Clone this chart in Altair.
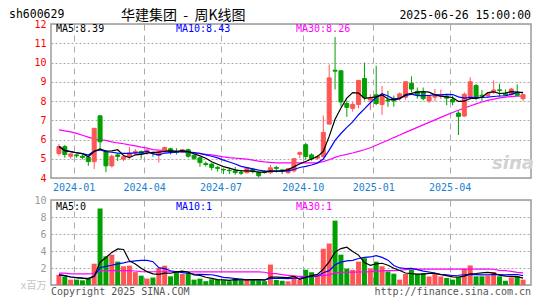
import altair as alt
import pandas as pd

weeks = [
    "2023-12-15", "2023-12-22", "2023-12-29",
    "2024-01-05", "2024-01-12", "2024-01-19", "2024-01-26", "2024-02-02", "2024-02-08", "2024-02-23",
    "2024-03-01", "2024-03-08", "2024-03-15", "2024-03-22", "2024-03-29",
    "2024-04-03", "2024-04-12", "2024-04-19", "2024-04-26", "2024-04-30", "2024-05-10", "2024-05-17",
    "2024-05-24", "2024-05-31", "2024-06-07", "2024-06-14", "2024-06-21", "2024-06-28",
    "2024-07-05", "2024-07-12", "2024-07-19", "2024-07-26", "2024-08-02", "2024-08-09", "2024-08-16",
    "2024-08-23", "2024-08-30", "2024-09-06", "2024-09-13", "2024-09-20", "2024-09-27", "2024-09-30",
    "2024-10-11", "2024-10-18", "2024-10-25", "2024-11-01", "2024-11-08", "2024-11-15", "2024-11-22",
    "2024-11-29", "2024-12-06", "2024-12-13", "2024-12-20", "2024-12-27",
    "2025-01-03", "2025-01-10", "2025-01-17", "2025-01-24", "2025-01-27", "2025-02-07", "2025-02-14",
    "2025-02-21", "2025-02-28", "2025-03-07", "2025-03-14", "2025-03-21", "2025-03-28",
    "2025-04-03", "2025-04-11", "2025-04-18", "2025-04-25", "2025-04-30", "2025-05-09", "2025-05-16",
    "2025-05-23", "2025-05-30", "2025-06-06", "2025-06-13", "2025-06-20", "2025-06-26",
]
opens = [5.27, 5.63, 5.13, 5.20, 5.13, 5.08, 4.85, 7.23, 5.38, 4.63,
         5.20, 4.98, 5.12, 5.30, 5.38, 5.35, 5.33, 5.17, 5.42, 5.52,
         5.37, 5.35, 5.47, 5.18, 5.05, 4.75, 4.72, 4.55, 4.45, 4.40,
         4.37, 4.28, 4.28, 4.45, 4.28, 4.33, 4.28, 4.55, 4.42, 4.28,
         4.37, 5.23, 5.73, 5.20, 5.03, 5.12, 6.80, 9.60, 9.57, 7.87,
         7.62, 7.82, 9.17, 8.05, 8.32, 7.82, 8.05, 8.12, 8.17, 8.20,
         8.92, 8.50, 8.45, 8.00, 8.20, 8.25, 8.25, 8.08, 7.37, 7.22,
         8.17, 8.80, 8.30, 8.28, 8.45, 8.58, 8.40, 8.33, 8.45, 8.12]
highs = [5.77, 5.72, 5.28, 5.27, 5.22, 5.13, 6.60, 7.25, 5.45, 5.22,
         5.28, 5.18, 5.60, 5.50, 5.42, 5.50, 5.35, 5.42, 5.63, 5.57,
         5.55, 5.50, 5.53, 5.27, 5.08, 4.85, 4.80, 4.62, 4.50, 4.50,
         4.57, 4.40, 4.57, 4.53, 4.33, 4.40, 4.67, 4.62, 4.45, 4.53,
         5.03, 5.37, 5.83, 5.28, 5.20, 7.25, 9.90, 11.32, 9.57, 8.03,
         7.95, 9.10, 10.00, 8.35, 9.83, 8.78, 8.53, 8.28, 8.45, 9.03,
         9.28, 8.70, 8.70, 8.28, 8.62, 8.60, 8.30, 8.28, 7.47, 8.45,
         9.23, 8.88, 8.57, 8.45, 9.07, 8.90, 8.60, 8.67, 8.87, 8.33]
lows = [5.17, 5.05, 5.00, 5.05, 4.97, 4.63, 4.47, 5.47, 4.30, 4.55,
        4.88, 4.88, 5.00, 5.20, 5.00, 5.20, 5.10, 4.80, 5.33, 5.22,
        5.22, 5.30, 5.05, 4.93, 4.58, 4.60, 4.40, 4.33, 4.20, 4.20,
        4.17, 4.15, 4.23, 4.23, 4.03, 4.23, 4.20, 4.28, 4.20, 4.20,
        4.28, 5.03, 4.95, 4.90, 4.95, 5.03, 6.78, 8.60, 7.72, 7.17,
        7.45, 7.62, 8.03, 7.53, 7.78, 7.28, 7.70, 7.70, 8.03, 8.07,
        8.45, 8.12, 8.03, 7.90, 7.98, 8.10, 7.78, 7.78, 6.23, 7.17,
        8.05, 8.05, 8.00, 8.20, 8.37, 8.22, 8.30, 8.28, 8.25, 8.00]
closes = [5.63, 5.22, 5.25, 5.15, 5.07, 4.85, 6.58, 5.88, 4.63, 5.13,
          5.12, 5.10, 5.30, 5.38, 5.25, 5.45, 5.28, 5.38, 5.58, 5.35,
          5.33, 5.47, 5.13, 5.02, 4.80, 4.70, 4.55, 4.50, 4.42, 4.38,
          4.28, 4.25, 4.53, 4.33, 4.12, 4.28, 4.53, 4.50, 4.38, 4.48,
          5.00, 5.32, 5.12, 5.00, 5.12, 6.37, 9.20, 9.55, 7.95, 7.67,
          7.82, 9.07, 8.17, 8.15, 7.87, 8.33, 8.00, 8.00, 8.37, 9.00,
          8.62, 8.33, 8.12, 8.23, 8.28, 8.30, 8.15, 7.95, 7.20, 8.35,
          9.00, 8.17, 8.25, 8.40, 8.57, 8.55, 8.30, 8.62, 8.30, 8.33]
volumes = [1.20, 1.00, 0.63, 0.63, 0.55, 0.75, 2.50, 9.00, 3.37, 3.57,
           2.75, 2.20, 2.28, 1.52, 1.10, 0.75, 0.88, 2.00, 2.27, 1.02,
           1.55, 1.30, 1.42, 0.63, 0.75, 0.45, 0.67, 0.63, 0.55, 0.45,
           0.82, 0.55, 0.70, 0.60, 0.55, 0.45, 2.40, 0.60, 0.50, 0.43,
           1.14, 0.63, 1.80, 1.50, 1.14, 4.27, 4.88, 7.57, 3.57, 1.92,
           1.78, 2.75, 3.15, 1.95, 2.75, 2.20, 1.60, 1.33, 0.63, 1.30,
           1.80, 1.30, 1.41, 1.00, 1.30, 1.00, 0.82, 0.63, 0.90, 1.90,
           2.30, 1.02, 1.02, 1.14, 1.53, 1.02, 0.50, 0.90, 1.02, 0.63]
ma30_close = [6.50, 6.45, 6.40, 6.32, 6.22, 6.12, 6.02, 5.98, 5.95, 5.88,
              5.82, 5.78, 5.72, 5.67, 5.60, 5.55, 5.47, 5.45, 5.43, 5.41,
              5.38, 5.35, 5.32, 5.29, 5.26, 5.23, 5.20, 5.15, 5.10, 5.06,
              5.03, 5.01, 4.98, 4.93, 4.88, 4.84, 4.81, 4.79, 4.79, 4.79,
              4.79, 4.79, 4.79, 4.79, 4.80, 4.85, 4.95, 5.07, 5.17, 5.23,
              5.30, 5.38, 5.47, 5.57, 5.70, 5.83, 5.96, 6.10, 6.23, 6.37,
              6.50, 6.63, 6.76, 6.89, 7.02, 7.15, 7.28, 7.40, 7.52, 7.63,
              7.74, 7.85, 7.95, 8.03, 8.10, 8.16, 8.20, 8.23, 8.25, 8.26]
ma30_volume = [1.40, 1.40, 1.32, 1.30, 1.30, 1.30, 1.35, 1.65, 1.68, 1.68,
               1.68, 1.68, 1.68, 1.65, 1.58, 1.56, 1.56, 1.56, 1.56, 1.56,
               1.56, 1.56, 1.56, 1.55, 1.55, 1.55, 1.55, 1.55, 1.55, 1.55,
               1.55, 1.55, 1.55, 1.55, 1.55, 1.50, 1.33, 1.33, 1.22, 1.14,
               1.05, 1.02, 1.02, 1.04, 1.08, 1.14, 1.20, 1.42, 1.48, 1.50,
               1.52, 1.53, 1.55, 1.58, 1.63, 1.67, 1.70, 1.70, 1.72, 1.82,
               1.87, 1.87, 1.87, 1.87, 1.87, 1.87, 1.87, 1.87, 1.87, 1.87,
               1.87, 1.87, 1.87, 1.87, 1.85, 1.72, 1.68, 1.60, 1.48, 1.42]

RED = "#ff5555"
GREEN = "#00a000"
MONO = "DejaVu Sans Mono"
CJK = "Noto Sans CJK SC"
NB = "\u00a0"

df = pd.DataFrame({
    "i": list(range(len(weeks))), "week": weeks, "open": opens, "high": highs,
    "low": lows, "close": closes, "volume": volumes,
    "ma30": ma30_close, "vma30": ma30_volume,
})
one = pd.DataFrame({"k": [0]})

tick_vals, tick_labels = [], []
for k in range(1, len(weeks)):
    if weeks[k][:7] != weeks[k - 1][:7] and int(weeks[k][5:7]) in (1, 4, 7, 10):
        tick_vals.append(k - 0.5)
        tick_labels.append(weeks[k][:7])
label_expr = "".join(
    f"abs(datum.value - {v}) < 0.01 ? '{l}' : " for v, l in zip(tick_vals, tick_labels)
) + "''"

W, H_MAIN, H_VOL = 480, 154, 85

xs = alt.Scale(domain=[-0.5, len(weeks) - 0.5], nice=False, zero=False)
ys = alt.Scale(domain=[4, 12], nice=False, zero=False)
vs = alt.Scale(domain=[0, 10], nice=False, zero=False)

updown = alt.condition("datum.close >= datum.open", alt.value(RED), alt.value(GREEN))

x_main_axis = alt.Axis(values=tick_vals, labelExpr=label_expr, title=None, grid=True,
                       gridColor="#aaaaaa", gridDash=[6, 5], ticks=False, domain=False,
                       labelColor="#1a7fd0", labelFont=MONO, labelFontSize=10,
                       labelPadding=4, labelFlush=False)
x_vol_axis = alt.Axis(values=tick_vals, labels=False, title=None, grid=True,
                      gridColor="#aaaaaa", gridDash=[6, 5], ticks=False, domain=False)
y_main_axis = alt.Axis(values=list(range(4, 13)), title=None, grid=True, gridColor="#aaaaaa",
                       gridDash=[2, 2], ticks=False, domain=False, labelColor="#ff0000",
                       labelFont=MONO, labelFontSize=10, labelPadding=5)
y_vol_axis = alt.Axis(values=[0, 2, 4, 6, 8, 10], title=None, grid=True, gridColor="#aaaaaa",
                      gridDash=[2, 2], ticks=False, domain=False,
                      labelExpr="datum.value == 0 ? 'x百万' : datum.label",
                      labelColor={"condition": {"test": "datum.value == 0", "value": "#c4c4c4"},
                                  "value": "#999999"},
                      labelFont=MONO + ", " + CJK, labelFontSize=10, labelPadding=5)

xm = alt.X("i:Q", scale=xs, axis=x_main_axis)
xv = alt.X("i:Q", scale=xs, axis=x_vol_axis)


def ym(field):
    return alt.Y(f"{field}:Q", scale=ys, axis=y_main_axis)


def yv(field):
    return alt.Y(f"{field}:Q", scale=vs, axis=y_vol_axis)


def txt(s, x, y, color, size, font=MONO, align="left", baseline="middle", **kw):
    return alt.Chart(one).mark_text(text=s, align=align, baseline=baseline, color=color,
                                    fontSize=size, font=font, **kw).encode(
        x=alt.value(x), y=alt.value(y))


base = alt.Chart(df)
sort_i = [alt.SortField("i")]

wicks = base.mark_rule(strokeWidth=1).encode(x=xm, y=ym("low"), y2="high:Q", color=updown)
bodies = base.mark_bar(size=4, strokeWidth=1).encode(x=xm, y=ym("open"), y2="close:Q",
                                                     fill=updown, stroke=updown)
ma5 = base.transform_window(ma5="mean(close)", frame=[-4, 0], sort=sort_i).mark_line(
    color="black", strokeWidth=1.2).encode(x=xm, y=ym("ma5"))
ma10 = base.transform_window(ma10="mean(close)", frame=[-9, 0], sort=sort_i).mark_line(
    color="#0000ff", strokeWidth=1.2).encode(x=xm, y=ym("ma10"))
ma30 = base.mark_line(color="#ff00ff", strokeWidth=1.2).encode(x=xm, y=ym("ma30"))

title_text = "华建集团" + NB * 2 + "-" + NB * 2 + "周K线图"

main = alt.layer(
    txt("sina", 462, 140, "#d2d2d2", 18, font="DejaVu Sans", fontStyle="italic", fontWeight="bold",
        align="center"),
    ma30, wicks, bodies, ma10, ma5,
    txt("sh600629", -42, -15, "black", 11.5, baseline="top"),
    txt(title_text, 70, -8, "black", 14, font=CJK, baseline="middle"),
    txt("2025-06-26 15:00:00", W, -14, "black", 11.5, align="right", baseline="top"),
    txt("MA5:8.39", 5, 5, "black", 10),
    txt("MA10:8.43", 125, 5, "#0000ff", 10),
    txt("MA30:8.26", 245, 5, "#ff00ff", 10),
).properties(width=W, height=H_MAIN)

vbars = base.mark_bar(size=5).encode(x=xv, y=yv("volume"), fill=updown)
vma5 = base.transform_window(vma5="mean(volume)", frame=[-4, 0], sort=sort_i).mark_line(
    color="black", strokeWidth=1.2).encode(x=xv, y=yv("vma5"))
vma10 = base.transform_window(vma10="mean(volume)", frame=[-9, 0], sort=sort_i).mark_line(
    color="#0000ff", strokeWidth=1.2).encode(x=xv, y=yv("vma10"))
vma30 = base.mark_line(color="#ff00ff", strokeWidth=1.2).encode(x=xv, y=yv("vma30"))

vol = alt.layer(
    vbars, vma30, vma10, vma5,
    txt("MA5:0", 5, 7, "black", 10),
    txt("MA10:1", 125, 7, "#0000ff", 10),
    txt("MA30:1", 245, 7, "#ff00ff", 10),
    txt("Copyright 2025 SINA.COM", 0, 92, "#555555", 10),
    txt("http://finance.sina.com.cn", W, 92, "#555555", 10, align="right"),
).properties(width=W, height=H_VOL)

chart = alt.vconcat(main, vol, spacing=1).properties(padding=0).configure_view(
    stroke="#9a9a9a", strokeWidth=1.5)

chart.save("out.html", embed_options={"renderer": "svg", "actions": False})
